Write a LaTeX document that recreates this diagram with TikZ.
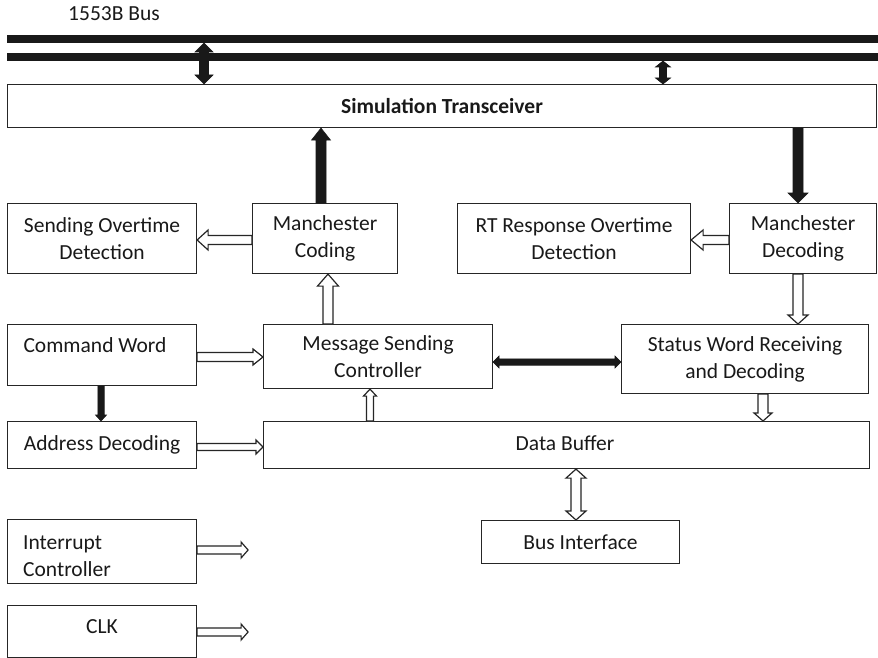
\documentclass[tikz,border=0pt]{standalone}
\usepackage{fontspec}
\setmainfont{Carlito}
\usetikzlibrary{calc}
\tikzset{
  box/.style={draw=black!85, line width=1.1pt, inner sep=0pt, align=center,
    font=\fontsize{21.5}{27}\selectfont, anchor=north west, text=black!90},
  txt/.style={inner sep=0pt, font=\fontsize{21.5}{27}\selectfont, text=black!90},
  solidarr/.style={fill=black!90, draw=black!90, line width=0.6pt, line join=miter},
  hollowarr/.style={fill=white, draw=black!85, line width=1.2pt, line join=miter},
  busline/.style={line width=8pt, black!90}
}
% single-headed block arrow: style, from, to, shaft half width, head half width, head length
\newcommand\blockarr[6]{%
  \coordinate (ba-h) at ($(#3)!#6!(#2)$);
  \draw[#1] ($(#2)!#4!90:(#3)$) -- ($(ba-h)!#4!90:(#3)$) -- ($(ba-h)!#5!90:(#3)$) -- (#3)
    -- ($(ba-h)!#5!-90:(#3)$) -- ($(ba-h)!#4!-90:(#3)$) -- ($(#2)!#4!-90:(#3)$) -- cycle;}
% double-headed block arrow
\newcommand\dblarr[6]{%
  \coordinate (ba-h) at ($(#3)!#6!(#2)$);
  \coordinate (ba-t) at ($(#2)!#6!(#3)$);
  \draw[#1] (#2) -- ($(ba-t)!#5!90:(#3)$) -- ($(ba-t)!#4!90:(#3)$) -- ($(ba-h)!#4!90:(#3)$)
    -- ($(ba-h)!#5!90:(#3)$) -- (#3) -- ($(ba-h)!#5!-90:(#3)$) -- ($(ba-h)!#4!-90:(#3)$)
    -- ($(ba-t)!#4!-90:(#3)$) -- ($(ba-t)!#5!-90:(#3)$) -- cycle;}
\begin{document}
\begin{tikzpicture}[x=1pt, y=-1pt]
\useasboundingbox (0,0) rectangle (878,658);
\fill[white] (0,0) rectangle (878,658);

% bus
\node[txt, anchor=west] (buslabel) at (68,14) {1553B Bus};
\draw[busline] (7,39) -- (878,39);
\draw[busline] (7,57) -- (878,57);
\coordinate (bus1) at (204,43);
\coordinate (bus2) at (663,61);

% boxes
\node[box, minimum width=869pt, minimum height=43pt] (trans) at (7,84) {\textbf{Simulation Transceiver}};
\node[box, minimum width=189pt, minimum height=70pt] (sod) at (7,203) {Sending Overtime\\Detection};
\node[box, minimum width=145pt, minimum height=70pt] (mc) at (252,203) {Manchester\\Coding};
\node[box, minimum width=233pt, minimum height=70pt] (rt) at (457,203) {RT Response Overtime\\Detection};
\node[box, minimum width=147pt, minimum height=70pt] (md) at (729,203) {Manchester\\Decoding};
\node[box, minimum width=189pt, minimum height=61pt] (cw) at (7,324) {};
\node[txt] (cwt) at (95,345) {Command Word};
\node[box, minimum width=229pt, minimum height=64pt] (msc) at (263,324) {Message Sending\\Controller};
\node[box, minimum width=247pt, minimum height=69pt] (sw) at (621,324) {Status Word Receiving\\and Decoding};
\node[box, minimum width=189pt, minimum height=47pt] (ad) at (7,421) {Address Decoding};
\node[box, minimum width=606pt, minimum height=47pt] (db) at (263,421) {};
\node[txt] (dbt) at (565,443) {Data Buffer};
\node[box, minimum width=198pt, minimum height=43pt] (bi) at (481,520) {Bus Interface};
\node[box, minimum width=189pt, minimum height=64pt] (ic) at (7,519) {};
\node[txt, anchor=west, align=left] (ict) at (23,556) {Interrupt\\Controller};
\node[box, minimum width=189pt, minimum height=52pt] (clk) at (7,605) {};
\node[txt] (clkt) at (102,627) {CLK};

% bus arrows
\coordinate (b1e) at (bus1 |- trans.north);
\dblarr{solidarr}{bus1}{b1e}{4.5pt}{9pt}{9pt}
\coordinate (b2e) at (bus2 |- trans.north);
\dblarr{solidarr}{bus2}{b2e}{3.5pt}{7.5pt}{6pt}

% Manchester coding -> transceiver
\coordinate (a3s) at ($(mc.north west)+(69,0)$);
\coordinate (a3e) at (a3s |- trans.south);
\blockarr{solidarr}{a3s}{a3e}{5pt}{9.5pt}{12pt}
% transceiver -> Manchester decoding
\coordinate (a4e) at ($(md.north west)+(69,0)$);
\coordinate (a4s) at (a4e |- trans.south);
\blockarr{solidarr}{a4s}{a4e}{5pt}{10pt}{10pt}

% MC -> SOD
\coordinate (a5s) at ($(mc.north west)+(0,37)$);
\coordinate (a5e) at (a5s -| sod.east);
\blockarr{hollowarr}{a5s}{a5e}{4.5pt}{10pt}{11pt}
% MD -> RT
\coordinate (a6s) at ($(md.north west)+(0,37)$);
\coordinate (a6e) at (a6s -| rt.east);
\blockarr{hollowarr}{a6s}{a6e}{4.5pt}{10pt}{12pt}
% MSC -> MC
\coordinate (a7s) at ($(msc.north west)+(65,0)$);
\coordinate (a7e) at (a7s |- mc.south);
\blockarr{hollowarr}{a7s}{a7e}{5pt}{10.5pt}{12pt}
% CW -> MSC
\coordinate (a8s) at ($(cw.north east)+(0,33)$);
\coordinate (a8e) at (a8s -| msc.west);
\blockarr{hollowarr}{a8s}{a8e}{4.5pt}{8pt}{10pt}
% CW -> AD
\coordinate (a9s) at ($(cw.south west)+(94,0)$);
\coordinate (a9e) at (a9s |- ad.north);
\blockarr{solidarr}{a9s}{a9e}{3.2pt}{5.5pt}{6pt}
% DB -> MSC
\coordinate (a10s) at ($(db.north west)+(107,0)$);
\coordinate (a10e) at (a10s |- msc.south);
\blockarr{hollowarr}{a10s}{a10e}{3.5pt}{6.5pt}{7pt}
% MD -> SW
\coordinate (a11s) at (a4e |- md.south);
\coordinate (a11e) at (a4e |- sw.north);
\blockarr{hollowarr}{a11s}{a11e}{5pt}{10pt}{9pt}
% MSC <-> SW
\coordinate (a12s) at ($(msc.north east)+(0,38)$);
\coordinate (a12e) at (a12s -| sw.west);
\dblarr{solidarr}{a12s}{a12e}{3.2pt}{6pt}{6pt}
% SW -> DB
\coordinate (a13s) at ($(sw.south west)+(142,0)$);
\coordinate (a13e) at (a13s |- db.north);
\blockarr{hollowarr}{a13s}{a13e}{5pt}{9pt}{8pt}
% AD -> DB
\coordinate (a14s) at ($(ad.north east)+(0,26)$);
\coordinate (a14e) at (a14s -| db.west);
\blockarr{hollowarr}{a14s}{a14e}{3.5pt}{7pt}{7pt}
% DB <-> BI
\coordinate (a15e) at ($(bi.north west)+(95,0)$);
\coordinate (a15s) at (a15e |- db.south);
\dblarr{hollowarr}{a15s}{a15e}{5pt}{10pt}{9pt}
% IC ->
\coordinate (a16s) at ($(ic.north east)+(0,31)$);
\coordinate (a16e) at ($(a16s)+(51,0)$);
\blockarr{hollowarr}{a16s}{a16e}{4pt}{8pt}{7pt}
% CLK ->
\coordinate (a17s) at ($(clk.north east)+(0,27)$);
\coordinate (a17e) at ($(a17s)+(51,0)$);
\blockarr{hollowarr}{a17s}{a17e}{4pt}{8pt}{7pt}
\end{tikzpicture}
\end{document}
